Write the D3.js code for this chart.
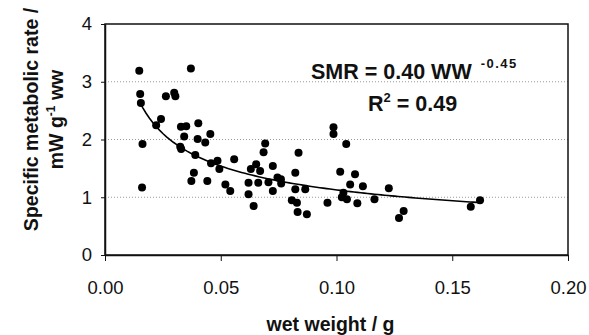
<!DOCTYPE html>
<html>
<head>
<meta charset="utf-8">
<script src="https://cdn.jsdelivr.net/npm/d3@7"></script>
<style>
  body { margin: 0; background: #fff; }
  svg text { font-family: Arial, "Liberation Sans", sans-serif; }
</style>
</head>
<body>
<script>
// wet weight (g) and specific metabolic rate (mW g-1 ww)
var wetWeight = [
  0.0148, 0.0152, 0.0155, 0.0162, 0.0160, 0.0221, 0.0242, 0.0263, 0.0299, 0.0304,
  0.0328, 0.0351, 0.0371, 0.0403, 0.0342, 0.0400, 0.0455, 0.0433, 0.0325, 0.0329,
  0.0390, 0.0458, 0.0486, 0.0494, 0.0558, 0.0384, 0.0373, 0.0442, 0.0520, 0.0541,
  0.0620, 0.0620, 0.0642, 0.0662, 0.0630, 0.0653, 0.0670, 0.0692, 0.0685, 0.0725,
  0.0706, 0.0725, 0.0745, 0.0760, 0.0761, 0.0822, 0.0822, 0.0836, 0.0807, 0.0829,
  0.0832, 0.0987, 0.0987, 0.1042, 0.1016, 0.1080, 0.1059, 0.1114, 0.0865, 0.0872,
  0.0961, 0.1030, 0.1023, 0.1045, 0.1090, 0.1164, 0.1226, 0.1290, 0.1270, 0.1580,
  0.1620
];
var smr = [
  3.19, 2.79, 2.63, 1.92, 1.17, 2.245, 2.355, 2.75, 2.81, 2.75,
  2.22, 2.23, 3.23, 2.28, 2.05, 2.01, 2.095, 1.95, 1.875, 1.835,
  1.73, 1.59, 1.63, 1.49, 1.66, 1.425, 1.28, 1.28, 1.22, 1.11,
  1.25, 1.05, 0.85, 1.25, 1.49, 1.57, 1.455, 1.93, 1.78, 1.54,
  1.26, 1.11, 1.34, 1.31, 1.24, 1.425, 1.14, 1.77, 0.95, 0.905,
  0.745, 2.21, 2.095, 1.92, 1.44, 1.40, 1.22, 1.19, 1.14, 0.705,
  0.905, 1.08, 1.00, 0.965, 0.895, 0.965, 1.155, 0.76, 0.64, 0.835,
  0.95
];

// power fit shown on the chart
var fitA = 0.40;
var fitB = -0.45;

var xTicks = [0, 0.05, 0.10, 0.15, 0.20];
var yTicks = [0, 1, 2, 3, 4];
var gridValues = [1, 2, 3];

var width = 589, height = 335;
var margin = { top: 24, right: 21, bottom: 80, left: 105 };
var w = width - margin.left - margin.right;
var h = height - margin.top - margin.bottom;

var svg = d3.select("body").append("svg")
    .attr("width", width)
    .attr("height", height);

var g = svg.append("g")
    .attr("transform", "translate(" + margin.left + "," + margin.top + ")");

var x = d3.scaleLinear().domain([0, 0.20]).range([0, w]);
var y = d3.scaleLinear().domain([0, 4]).range([h, 0]);

// dotted gridlines
g.selectAll(".grid")
    .data(gridValues)
  .enter().append("line")
    .attr("x1", 0)
    .attr("x2", w)
    .attr("y1", function(d) { return y(d); })
    .attr("y2", function(d) { return y(d); })
    .attr("stroke", "#999")
    .attr("stroke-width", 1)
    .attr("stroke-dasharray", "1,2");

// frame
g.append("rect")
    .attr("width", w)
    .attr("height", h)
    .attr("fill", "none")
    .attr("stroke", "#111")
    .attr("stroke-width", 1.5);

// axes
var xAxis = d3.axisBottom(x)
    .tickValues(xTicks)
    .tickFormat(d3.format(".2f"))
    .tickSizeInner(6)
    .tickSizeOuter(0)
    .tickPadding(20);

var yAxis = d3.axisLeft(y)
    .tickValues(yTicks)
    .tickFormat(d3.format("d"))
    .tickSizeInner(4)
    .tickSizeOuter(0)
    .tickPadding(9);

var gx = g.append("g")
    .attr("transform", "translate(0," + h + ")")
    .call(xAxis);
var gy = g.append("g").call(yAxis);

[gx, gy].forEach(function(a) {
    a.select(".domain").attr("stroke", "#111").attr("stroke-width", 1.5);
    a.selectAll(".tick line").attr("stroke", "#111").attr("stroke-width", 1);
    a.selectAll(".tick text")
        .attr("fill", "#111")
        .style("font-size", "18.5px");
});

// fitted curve
var xMin = d3.min(wetWeight), xMax = d3.max(wetWeight);
var curveX = d3.range(0, 101).map(function(i) { return xMin + (xMax - xMin) * i / 100; });
var line = d3.line()
    .x(function(d) { return x(d); })
    .y(function(d) { return y(fitA * Math.pow(d, fitB)); });

g.append("path")
    .datum(curveX)
    .attr("d", line)
    .attr("fill", "none")
    .attr("stroke", "#000")
    .attr("stroke-width", 1.6);

// points
g.selectAll(".dot")
    .data(wetWeight)
  .enter().append("circle")
    .attr("cx", function(d) { return x(d); })
    .attr("cy", function(d, i) { return y(smr[i]); })
    .attr("r", 4)
    .attr("fill", "#000");

// equation
var eq = svg.append("text")
    .attr("x", 311)
    .attr("y", 79)
    .style("font-size", "21.5px")
    .style("font-weight", "bold")
    .attr("fill", "#111");
eq.append("tspan").text("SMR = 0.40 WW ");
eq.append("tspan")
    .attr("dx", 3)
    .attr("dy", -11)
    .style("font-size", "13px")
    .style("letter-spacing", "1.5px")
    .text("-0.45");

var r2 = svg.append("text")
    .attr("x", 368)
    .attr("y", 111)
    .style("font-size", "21.5px")
    .style("font-weight", "bold")
    .attr("fill", "#111");
r2.append("tspan").text("R");
r2.append("tspan").attr("dy", -9).style("font-size", "13px").text("2");
r2.append("tspan").attr("dy", 9).text(" = 0.49");

// axis titles
svg.append("text")
    .attr("x", margin.left + w / 2 - 6)
    .attr("y", 331)
    .attr("text-anchor", "middle")
    .style("font-size", "19.5px")
    .style("font-weight", "bold")
    .attr("fill", "#111")
    .text("wet weight / g");

var yt = svg.append("text")
    .attr("transform", "translate(38," + (margin.top + h / 2 - 20) + ") rotate(-90)")
    .attr("text-anchor", "middle")
    .style("font-size", "19.5px")
    .style("font-weight", "bold")
    .attr("fill", "#111");
yt.append("tspan").attr("x", 0).attr("y", 0).text("Specific metabolic rate /");
var l2 = yt.append("tspan").attr("x", 0).attr("y", 25);
l2.append("tspan").text("mW g");
l2.append("tspan").attr("dy", -8).style("font-size", "12px").text("-1");
l2.append("tspan").attr("dy", 8).text(" ww");
</script>
</body>
</html>
